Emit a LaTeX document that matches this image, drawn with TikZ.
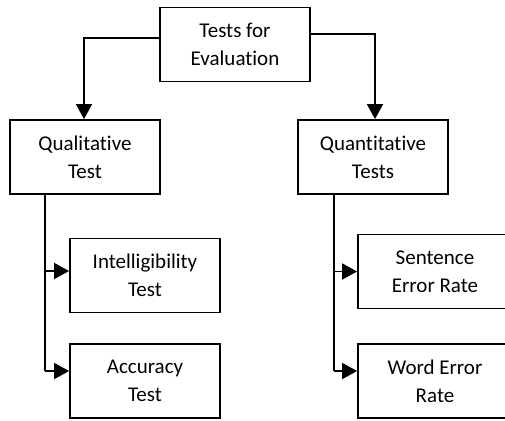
\documentclass[tikz,border=0pt]{standalone}
\usepackage{fontspec}
\setmainfont{Carlito}[Ligatures={NoCommon}]
\usetikzlibrary{arrows.meta}
\begin{document}
\begin{tikzpicture}[x=1pt,y=-1pt,
  box/.style={draw,line width=1.8pt,minimum width=150pt,minimum height=74pt,inner sep=0pt,
    align=center,font=\fontsize{21pt}{28pt}\selectfont},
  conn/.style={line width=1.8pt,-{Triangle[length=15pt,width=16pt]}},
  trunk/.style={line width=1.8pt}]
\useasboundingbox (0,0) rectangle (505,420);
\node[box] (top) at (235,44.5) {Tests for\\Evaluation};
\node[box] (qual) at (85,157) {Qualitative\\Test};
\node[box] (quant) at (373,157) {Quantitative\\Tests};
\node[box] (intel) at (145,275.5) {Intelligibility\\Test};
\node[box] (acc) at (145,381) {Accuracy\\Test};
\node[box,minimum width=154pt] (sent) at (435,271.5) {Sentence\\Error Rate};
\node[box,minimum width=154pt] (word) at (435,381) {Word Error\\Rate};
\coordinate (ql) at ([xshift=-40pt]qual.south);
\coordinate (qr) at ([xshift=-39pt]quant.south);
\coordinate (intelin) at ([yshift=4.5pt]intel.west);
\coordinate (accin) at ([yshift=10pt]acc.west);
\coordinate (wordin) at ([yshift=10pt]word.west);
\draw[conn] ([yshift=6.5pt]top.west) -| ([xshift=-1pt]qual.north);
\draw[conn] ([yshift=10.5pt]top.east) -| ([xshift=2pt]quant.north);
\draw[trunk] (ql) -- (ql |- accin);
\draw[conn] (ql |- intelin) -- (intelin);
\draw[conn] (ql |- accin) -- (accin);
\draw[trunk] (qr) -- (qr |- wordin);
\draw[conn] (qr |- sent.west) -- (sent.west);
\draw[conn] (qr |- wordin) -- (wordin);
\end{tikzpicture}
\end{document}
